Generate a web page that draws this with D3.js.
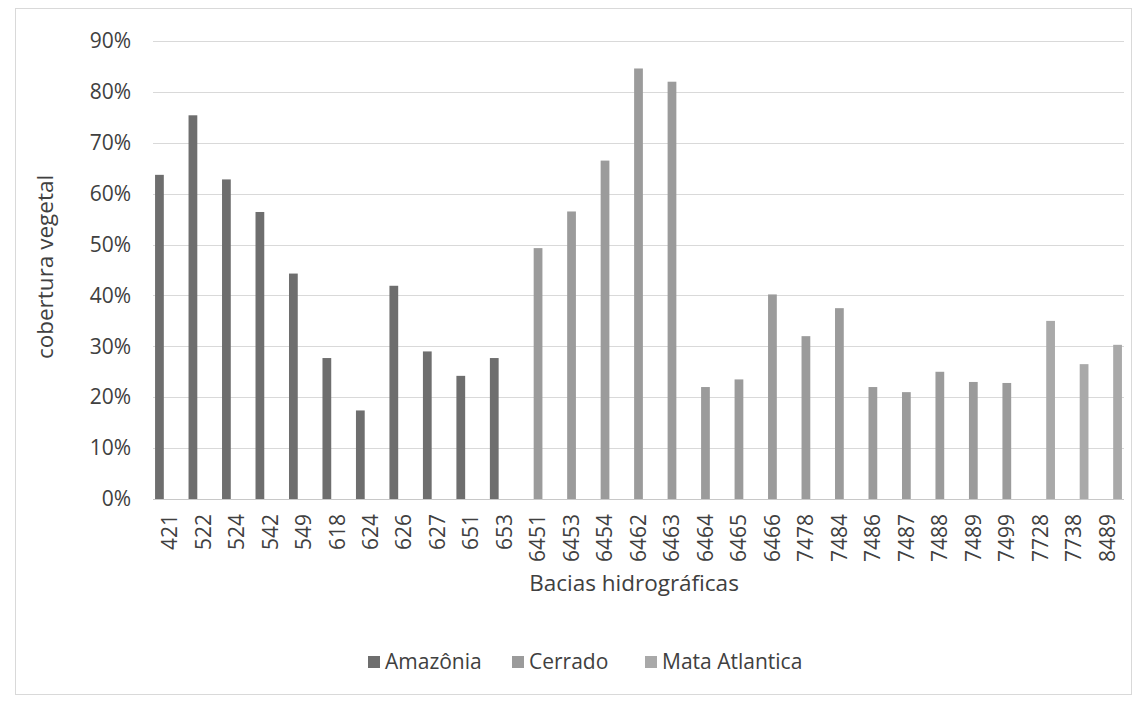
<!DOCTYPE html>
<html>
<head>
<meta charset="utf-8">
<script src="https://cdn.jsdelivr.net/npm/d3@7"></script>
<style>
  html, body { margin: 0; padding: 0; background: #ffffff; }
  svg { display: block; font-family: "Open Sans", sans-serif; }
</style>
</head>
<body>
<svg id="chart" width="1139" height="701"></svg>
<script>
const categories = ["421","522","524","542","549","618","624","626","627","651","653",
  "6451","6453","6454","6462","6463","6464","6465","6466","7478","7484","7486","7487",
  "7488","7489","7499","7728","7738","8489"];
const seriesNames = ["Amazônia", "Cerrado", "Mata Atlantica"];
const amazonia = [63.7, 75.4, 62.8, 56.4, 44.3, 27.7, 17.4, 41.9, 29.0, 24.2, 27.7,
  null, null, null, null, null, null, null, null, null, null, null, null, null, null, null, null, null, null];
const cerrado = [null, null, null, null, null, null, null, null, null, null, null,
  49.3, 56.5, 66.5, 84.6, 82.0, 22.0, 23.5, 40.2, 32.0, 37.5, 22.0, 21.0, 25.0, 23.0, 22.8, null, null, null];
const mataAtlantica = [null, null, null, null, null, null, null, null, null, null, null,
  null, null, null, null, null, null, null, null, null, null, null, null, null, null, null, 35.0, 26.5, 30.3];
const yTicks = [0, 10, 20, 30, 40, 50, 60, 70, 80, 90];
const colors = ["#6e6e6e", "#9b9b9b", "#a9a9a9"];

const svg = d3.select("#chart");
const seriesValues = [amazonia, cerrado, mataAtlantica];

// outer border
svg.append("rect").attr("x", 15.5).attr("y", 8.5).attr("width", 1116).attr("height", 686)
  .attr("fill", "#fff").attr("stroke", "#d9d9d9").attr("stroke-width", 1);

const x0 = d3.scaleBand().domain(categories).range([153, 1124]).paddingInner(0).paddingOuter(0);
const x1 = d3.scaleBand().domain(seriesNames).range([0, x0.bandwidth()]).paddingInner(0.15).paddingOuter(0.2);
const y = d3.scaleLinear().domain([0, 90]).range([499, 41]);

// gridlines
svg.append("g").selectAll("line").data(yTicks).join("line")
  .attr("x1", 153).attr("x2", 1124)
  .attr("y1", d => Math.round(y(d)) + 0.5).attr("y2", d => Math.round(y(d)) + 0.5)
  .attr("stroke", d => d === 0 ? "#c8c8c8" : "#d9d9d9").attr("stroke-width", 1);

// y axis labels
const yAxis = d3.axisLeft(y).tickValues(yTicks).tickFormat(d => d + "%").tickSize(0).tickPadding(0);
const gy = svg.append("g").attr("transform", "translate(131,0)").call(yAxis);
gy.select(".domain").remove();
gy.selectAll("text").attr("font-size", 21).attr("fill", "#404040").attr("font-family", "Open Sans");

// bars
const flat = [];
seriesValues.forEach((arr, si) => arr.forEach((v, ci) => {
  if (v !== null) flat.push({ cat: categories[ci], series: seriesNames[si], value: v, si });
}));
svg.append("g").selectAll("rect").data(flat).join("rect")
  .attr("x", d => x0(d.cat) + x1(d.series))
  .attr("width", x1.bandwidth())
  .attr("y", d => y(d.value))
  .attr("height", d => y(0) - y(d.value))
  .attr("fill", d => colors[d.si]);

// x axis labels
const xAxis = d3.axisBottom(x0).tickSize(0).tickPadding(0);
const gx = svg.append("g").attr("transform", "translate(0,514)").call(xAxis);
gx.select(".domain").remove();
gx.selectAll("text")
  .attr("font-size", 21).attr("fill", "#404040").attr("font-family", "Open Sans")
  .attr("text-anchor", "end").attr("dy", "0.35em")
  .attr("transform", "rotate(-90)").attr("x", 0).attr("y", 0);

// axis titles
svg.append("text").attr("x", 634).attr("y", 591).attr("text-anchor", "middle")
  .attr("font-size", 22.5).attr("fill", "#404040").text("Bacias hidrográficas");
svg.append("text").attr("transform", "translate(53,267) rotate(-90)").attr("text-anchor", "middle")
  .attr("font-size", 22.5).attr("fill", "#404040").text("cobertura vegetal");

// legend
const legendX = [368, 512, 645];
const lg = svg.append("g").selectAll("g").data(seriesNames).join("g")
  .attr("transform", (d, i) => `translate(${legendX[i]},662)`);
lg.append("rect").attr("x", 0).attr("y", -6).attr("width", 12).attr("height", 12)
  .attr("fill", (d, i) => colors[i]);
lg.append("text").attr("x", 17).attr("y", 0).attr("dy", "0.35em")
  .attr("font-size", 21).attr("fill", "#404040").text(d => d);
</script>
</body>
</html>
